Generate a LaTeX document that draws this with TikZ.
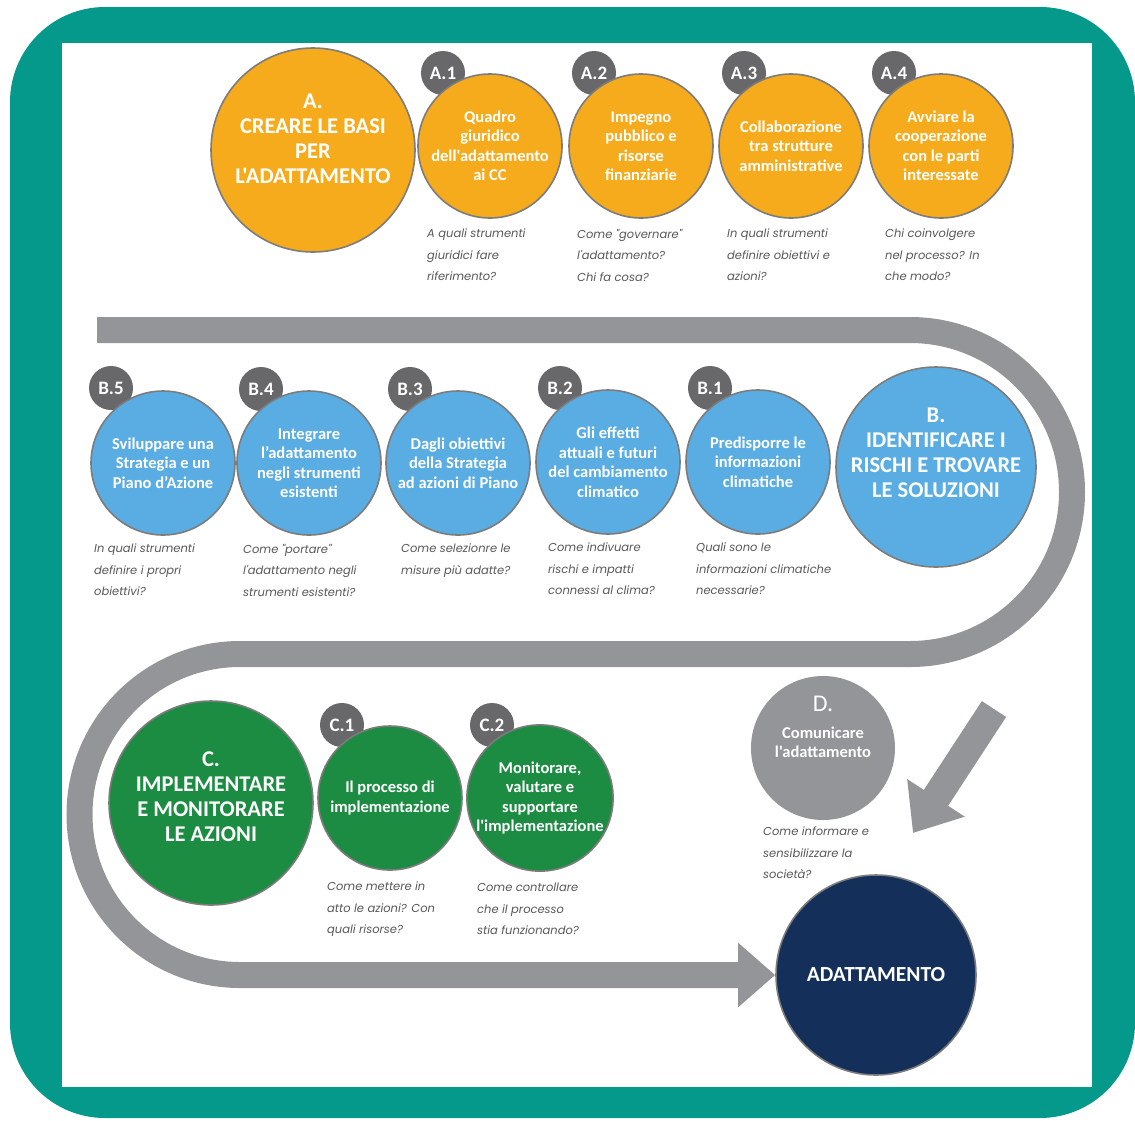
\documentclass[tikz,border=0pt]{standalone}
\usepackage{fontspec}
\setmainfont{Carlito}[Ligatures=TeXOff]
\newfontfamily\askfont{Poppins}[Ligatures=TeXOff]
\usetikzlibrary{arrows.meta, positioning}

\definecolor{frameteal}{HTML}{05998C}
\definecolor{bandgray}{HTML}{939598}
\definecolor{ringgray}{HTML}{7C7C7C}
\definecolor{taggray}{HTML}{68686A}
\definecolor{asktext}{HTML}{585858}
\definecolor{stepA}{HTML}{F6AB1D}
\definecolor{stepB}{HTML}{5AADE2}
\definecolor{stepC}{HTML}{1D8C43}
\definecolor{stepD}{HTML}{939598}
\definecolor{goal}{HTML}{14305A}

\pgfdeclarelayer{frame}
\pgfdeclarelayer{tags}
\pgfsetlayers{frame,tags,main}

\begin{document}
\begin{tikzpicture}[x=1pt, y=1pt,
    bigstep/.style={circle, draw=ringgray, line width=1.6pt, minimum size=204pt, inner sep=0pt},
    bigtitle/.style={align=center, inner sep=0pt, text=white, font=\bfseries\fontsize{22.5}{25}\selectfont},
    smallstep/.style={circle, draw=ringgray, line width=1.6pt, minimum size=144pt, inner sep=0pt, align=center, text=white, font=\bfseries\fontsize{16.5}{19.5}\selectfont},
    steptag/.style={circle, fill=taggray, minimum size=44pt, inner sep=0pt, text=white, font=\bfseries\fontsize{19}{19}\selectfont},
    ask/.style={anchor=north west, align=left, inner sep=0pt, text=asktext, font=\askfont\itshape\fontsize{11.5}{21.5}\selectfont},
    band/.style={draw=bandgray, line width=26pt}]
    \useasboundingbox (0,0) rectangle (1135,-1120);
    \begin{pgfonlayer}{frame}
    \fill[frameteal, rounded corners=95pt] (10,-7) rectangle (1135,-1118);
    \fill[white] (62,-43) rectangle (1092,-1087);
    \end{pgfonlayer}

    \node[bigstep, fill=stepA] (a) at (313,-150) {};
    \node[smallstep, fill=stepA] (a1) at (490,-146) {Quadro\\giuridico\\dell'adattamento\\ai CC};
    \node[smallstep, fill=stepA] (a2) at (641,-146) {Impegno\\pubblico e\\risorse\\finanziarie};
    \node[smallstep, fill=stepA] (a3) at (791,-146) {Collaborazione\\tra strutture\\amministrative};
    \node[smallstep, fill=stepA] (a4) at (941,-146) {Avviare la\\cooperazione\\con le parti\\interessate};

    \node[bigstep, fill=stepB, minimum size=200pt] (b) at (936,-467) {};
    \node[smallstep, fill=stepB] (b1) at (758,-462) {Predisporre le\\informazioni\\climatiche};
    \node[smallstep, fill=stepB] (b2) at (608,-462) {Gli effetti\\attuali e futuri\\del cambiamento\\climatico};
    \node[smallstep, fill=stepB] (b3) at (458,-463) {Dagli obiettivi\\della Strategia\\ad azioni di Piano};
    \node[smallstep, fill=stepB] (b4) at (309,-463) {Integrare\\l’adattamento\\negli strumenti\\esistenti};
    \node[smallstep, fill=stepB] (b5) at (163,-463) {Sviluppare una\\Strategia e un\\Piano d’Azione};

    \node[bigstep, fill=stepC] (c) at (211,-803) {};
    \node[smallstep, fill=stepC] (c1) at (390,-798) {Il processo di\\implementazione};
    \node[smallstep, fill=stepC] (c2) at (540,-798) {Monitorare,\\valutare e\\supportare\\l'implementazione};

    \node[smallstep, fill=stepD, draw=none] (d) at (823,-748) {};
    \node[bigstep, fill=goal, minimum size=200pt] (goal) at (876,-975) {};

    \node[bigtitle] (a-title) at ([yshift=11]a.center) {A.\\CREARE LE BASI\\PER\\L'ADATTAMENTO};
    \node[bigtitle] (b-title) at ([yshift=14]b.center) {B.\\IDENTIFICARE I\\RISCHI E TROVARE\\LE SOLUZIONI};
    \node[bigtitle] (c-title) at ([yshift=6]c.center) {C.\\IMPLEMENTARE\\E MONITORARE\\LE AZIONI};
    \node[bigtitle, font=\bfseries\fontsize{21.5}{25}\selectfont] (goal-title) at (goal.center) {ADATTAMENTO};
    \node[align=center, text=white, inner sep=0pt, font=\bfseries\fontsize{16.5}{19.5}\selectfont] (d-title) at ([yshift=21]d.center)
        {\textmd{\fontsize{24}{24}\selectfont D.}\\[7pt]Comunicare\\l'adattamento};

    \begin{pgfonlayer}{tags}
    \node[steptag] (a1-tag) at ([shift={(-47,73)}]a1.center) {A.1};
    \node[steptag] (a2-tag) at ([shift={(-47,73)}]a2.center) {A.2};
    \node[steptag] (a3-tag) at ([shift={(-47,73)}]a3.center) {A.3};
    \node[steptag] (a4-tag) at ([shift={(-47,73)}]a4.center) {A.4};
    \node[steptag] (b1-tag) at ([shift={(-48,74)}]b1.center) {B.1};
    \node[steptag] (b2-tag) at ([shift={(-48,74)}]b2.center) {B.2};
    \node[steptag] (b3-tag) at ([shift={(-48,74)}]b3.center) {B.3};
    \node[steptag] (b4-tag) at ([shift={(-48,74)}]b4.center) {B.4};
    \node[steptag] (b5-tag) at ([shift={(-52,75)}]b5.center) {B.5};
    \node[steptag] (c1-tag) at ([shift={(-48,73)}]c1.center) {C.1};
    \node[steptag] (c2-tag) at ([shift={(-48,73)}]c2.center) {C.2};
    \end{pgfonlayer}

    \node[ask] (a1-ask) at ([xshift=-63,yshift=-10]a1.south) {A quali strumenti\\giuridici fare\\riferimento?};
    \node[ask] (a2-ask) at ([xshift=-64,yshift=-10]a2.south) {Come "governare"\\l'adattamento?\\Chi fa cosa?};
    \node[ask] (a3-ask) at ([xshift=-64,yshift=-10]a3.south) {In quali strumenti\\definire obiettivi e\\azioni?};
    \node[ask] (a4-ask) at ([xshift=-56,yshift=-10]a4.south) {Chi coinvolgere\\nel processo? In\\che modo?};
    \node[ask] (b1-ask) at ([xshift=-62,yshift=-8]b1.south) {Quali sono le\\informazioni climatiche\\necessarie?};
    \node[ask] (b2-ask) at ([xshift=-60,yshift=-8]b2.south) {Come indivuare\\rischi e impatti\\connessi al clima?};
    \node[ask] (b3-ask) at ([xshift=-57,yshift=-8]b3.south) {Come selezionre le\\misure più adatte?};
    \node[ask] (b4-ask) at ([xshift=-66,yshift=-8]b4.south) {Come "portare"\\l'adattamento negli\\strumenti esistenti?};
    \node[ask] (b5-ask) at ([xshift=-69,yshift=-8]b5.south) {In quali strumenti\\definire i propri\\obiettivi?};
    \node[ask] (c1-ask) at ([xshift=-63,yshift=-11]c1.south) {Come mettere in\\atto le azioni? Con\\quali risorse?};
    \node[ask] (c2-ask) at ([xshift=-63,yshift=-11]c2.south) {Come controllare\\che il processo\\stia funzionando?};
    \node[ask] (d-ask) at ([xshift=-60,yshift=-6]d.south) {Come informare e\\sensibilizzare la\\società?};

    \coordinate (in-d) at (994,-709);
    \coordinate (to-goal) at (913,-833);
    \draw[band] (97,-330) -- (910,-330) arc[start angle=90, end angle=-90, radius=162]
        -- (240,-654) arc[start angle=90, end angle=270, radius=160.5]
        -- (goal.west) [-{Triangle[length=37pt, width=62pt]}];
    \draw[band, line width=29pt, -{Triangle[length=42pt, width=66pt]}] (in-d) -- (to-goal);
\end{tikzpicture}
\end{document}
